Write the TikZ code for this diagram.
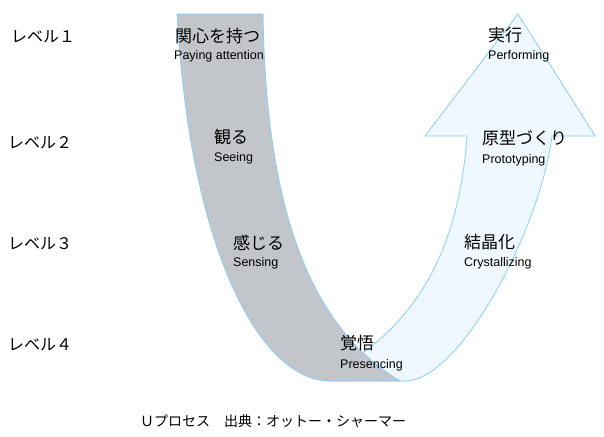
\documentclass[tikz,border=0pt]{standalone}
\usepackage{fontspec}
\setmainfont{Liberation Sans}
\newfontfamily\jp{Noto Sans CJK JP}
\definecolor{edge}{RGB}{135,206,250}
\definecolor{grayband}{RGB}{194,198,202}
\definecolor{blueband}{RGB}{240,248,255}
\tikzset{
  jlabel/.style={anchor=west,inner sep=0pt,font=\jp\fontsize{17}{17}\selectfont},
  elabel/.style={anchor=west,inner sep=0pt,font=\fontsize{12.5}{12.5}\selectfont},
  levellabel/.style={anchor=west,inner sep=0pt,font=\jp\fontsize{16}{16}\selectfont},
}
\begin{document}
\begin{tikzpicture}[x=1pt,y=-1pt]
  \useasboundingbox (0,0) rectangle (604,436);
  % right arm with the arrow head
  \draw[edge,fill=blueband,line width=0.8pt]
    (467,136) .. controls (458,260) and (410,320) .. (357,357)
    -- (330,381) -- (405,381)
    .. controls (460,381) and (540,230) .. (552,136)
    -- (595,136) -- (518,14) -- (425,136) -- cycle;
  % left arm
  \draw[edge,fill=grayband,line width=0.8pt]
    (177,14) -- (263,14)
    .. controls (266,220) and (315,330) .. (400,381)
    -- (330,381)
    .. controls (260,381) and (190,250) .. (177,14) -- cycle;
  % levels
  \draw
    (11,37) node[levellabel] (l1){レベル１}
    (8,143) node[levellabel] (l2){レベル２}
    (8,244) node[levellabel] (l3){レベル３}
    (8,345) node[levellabel] (l4){レベル４};
  % steps
  \draw
    (175,36) node[jlabel] (j1){関心を持つ}
    (174,56) node[elabel] (e1){Paying attention}
    (214,137) node[jlabel] (j2){観る}
    (214,158) node[elabel] (e2){Seeing}
    (233,243) node[jlabel] (j3){感じる}
    (233,263) node[elabel] (e3){Sensing}
    (340,343) node[jlabel] (j4){覚悟}
    (340,365) node[elabel] (e4){Presencing}
    (464,242) node[jlabel] (j5){結晶化}
    (464,263) node[elabel] (e5){Crystallizing}
    (482,138) node[jlabel] (j6){原型づくり}
    (482,160) node[elabel] (e6){Prototyping}
    (488,35) node[jlabel] (j7){実行}
    (488,56) node[elabel] (e7){Performing};
  \node[anchor=west,inner sep=0pt,font=\jp\fontsize{14}{14}\selectfont] (cap)
    at (140,421) {Ｕプロセス　出典：オットー・シャーマー};
\end{tikzpicture}
\end{document}
